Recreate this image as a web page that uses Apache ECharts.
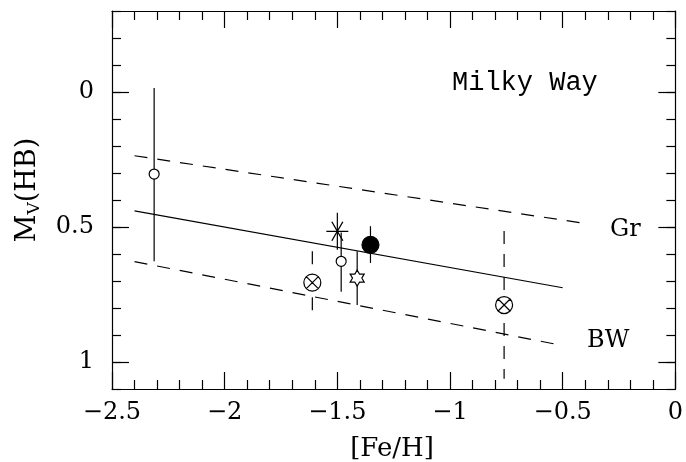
<!DOCTYPE html>
<html>
<head>
<meta charset="utf-8">
<script src="https://cdn.jsdelivr.net/npm/echarts@6/dist/echarts.min.js"></script>
<style>
  html, body { margin: 0; padding: 0; background: #fff; }
  #chart { width: 686px; height: 462px; }
</style>
</head>
<body>
<div id="chart"></div>
<script>
// axis ticks
const xMin = -2.5, xMax = 0, xStep = 0.5;
const yMin = -0.3, yMax = 1.1;
const yMajor = [0, 0.5, 1];

// relations: mean fit, Gr and BW
const fitX = [-2.4, -0.5];
const fitMv = [0.44, 0.725];
const grX = [-2.4, -0.4];
const grMv = [0.236, 0.487];
const bwX = [-2.4, -0.5];
const bwMv = [0.628, 0.939];

// objects
const objX = [-2.313, -1.611, -1.50, -1.483, -1.412, -1.353, -0.76];
const objMv = [0.304, 0.706, 0.516, 0.627, 0.689, 0.566, 0.789];
const objErrLo = [-0.015, 0.59, 0.447, 0.52, 0.59, 0.497, 0.515];
const objErrHi = [0.627, 0.826, 0.584, 0.74, 0.789, 0.633, 1.062];
const objKind = ['circle', 'cross', 'asterisk', 'circle', 'hexagram', 'dot', 'cross'];
const objErrDashed = [false, true, false, false, false, false, true];

const labelLine = ['Gr', 'BW'];

const symbols = {
  circle: { symbol: 'circle', size: 10, fill: '#fff' },
  dot: { symbol: 'circle', size: 17, fill: '#000' },
  cross: {
    symbol: 'path://M10,0 A10,10 0 1 1 -10,0 A10,10 0 1 1 10,0 Z M-7.07,-7.07 L7.07,7.07 M7.07,-7.07 L-7.07,7.07',
    size: 17, fill: '#fff'
  },
  asterisk: {
    symbol: 'path://M-10,0 L10,0 M-5,-8.66 L5,8.66 M5,-8.66 L-5,8.66',
    size: [22, 19], fill: 'rgba(0,0,0,0)'
  },
  hexagram: {
    symbol: 'path://M0,-10 L2.887,-5 L8.66,-5 L5.774,0 L8.66,5 L2.887,5 L0,10 L-2.887,5 L-8.66,5 L-5.774,0 L-8.66,-5 L-2.887,-5 Z',
    size: [14, 16], fill: '#fff'
  }
};

const pairs = (xs, ys) => xs.map((x, i) => [x, ys[i]]);
const fmtX = v => (v < 0 ? '\u2212' + Math.abs(v) : String(v));

const font = 'DejaVu Serif';
const black = { color: '#000', width: 1.2 };
const axisBase = {
  min: xMin, max: xMax, interval: xStep,
  axisLine: { onZero: false, lineStyle: black },
  axisTick: { inside: true, length: 17, lineStyle: black },
  minorTick: { show: true, splitNumber: 5, length: 9, lineStyle: black },
  splitLine: { show: false },
  minorSplitLine: { show: false }
};
const yBase = {
  type: 'value', min: yMin, max: yMax, inverse: true,
  splitLine: { show: false }
};

const chart = echarts.init(document.getElementById('chart'));

const option = {
  animation: false,
  backgroundColor: '#fff',
  grid: { left: 112, right: 8, top: 11, bottom: 73, containLabel: false },
  xAxis: [
    Object.assign({ type: 'value', position: 'bottom',
      axisLabel: { color: '#000', fontFamily: font, fontSize: 24, margin: 12, formatter: fmtX } }, axisBase),
    Object.assign({ type: 'value', position: 'top', axisLabel: { show: false } }, axisBase)
  ],
  yAxis: [
    Object.assign({ position: 'left', interval: 0.1,
      axisLine: { show: true, onZero: false, lineStyle: black },
      axisTick: { inside: true, length: 9, lineStyle: black },
      axisLabel: { show: false } }, yBase),
    Object.assign({ position: 'left',
      axisLine: { show: false, onZero: false },
      axisTick: { inside: true, length: 17, customValues: yMajor, lineStyle: black },
      axisLabel: { customValues: yMajor, color: '#000', fontFamily: font, fontSize: 24, margin: 18 } }, yBase),
    Object.assign({ position: 'right', interval: 0.1,
      axisLine: { show: true, onZero: false, lineStyle: black },
      axisTick: { inside: true, length: 9, lineStyle: black },
      axisLabel: { show: false } }, yBase),
    Object.assign({ position: 'right',
      axisLine: { show: false, onZero: false },
      axisTick: { inside: true, length: 17, customValues: yMajor, lineStyle: black },
      axisLabel: { show: false, customValues: yMajor } }, yBase)
  ],
  graphic: [
    { type: 'text', x: 452, y: 83, style: { text: 'Milky Way', font: '27px "Liberation Mono"', fill: '#000', align: 'left', verticalAlign: 'middle' } },
    { type: 'text', x: 610, y: 230, style: { text: labelLine[0], font: '24px "DejaVu Serif"', fill: '#000', align: 'left', verticalAlign: 'middle' } },
    { type: 'text', x: 587, y: 341, style: { text: labelLine[1], font: '24px "DejaVu Serif"', fill: '#000', align: 'left', verticalAlign: 'middle' } },
    { type: 'text', x: 392, y: 449, style: { text: '[Fe/H]', font: '26px "DejaVu Serif"', fill: '#000', align: 'center', verticalAlign: 'middle' } },
    { type: 'text', x: 28, y: 190, rotation: Math.PI / 2,
      style: {
        text: '{m|M}{s|V}{m|(HB)}', fill: '#000', align: 'center', verticalAlign: 'middle',
        rich: {
          m: { fontFamily: font, fontSize: 27, lineHeight: 31, fill: '#000' },
          s: { fontFamily: font, fontSize: 17, lineHeight: 17, verticalAlign: 'bottom', fill: '#000' }
        }
      } }
  ],
  series: [
    {
      type: 'custom',
      xAxisIndex: 0, yAxisIndex: 0,
      data: objX.map((x, i) => [x, objErrLo[i], objErrHi[i], objErrDashed[i] ? 1 : 0]),
      renderItem: function (params, api) {
        const p1 = api.coord([api.value(0), api.value(1)]);
        const p2 = api.coord([api.value(0), api.value(2)]);
        return {
          type: 'line',
          shape: { x1: p1[0], y1: p1[1], x2: p2[0], y2: p2[1] },
          style: { stroke: '#000', lineWidth: 1.2, lineDash: api.value(3) ? [13, 10] : null }
        };
      },
      silent: true
    },
    {
      type: 'line', xAxisIndex: 0, yAxisIndex: 0, data: pairs(fitX, fitMv),
      showSymbol: false, lineStyle: { color: '#000', width: 1.2 }
    },
    {
      type: 'line', xAxisIndex: 0, yAxisIndex: 0, data: pairs(grX, grMv),
      showSymbol: false, lineStyle: { color: '#000', width: 1.2, type: [13, 10] }
    },
    {
      type: 'line', xAxisIndex: 0, yAxisIndex: 0, data: pairs(bwX, bwMv),
      showSymbol: false, lineStyle: { color: '#000', width: 1.2, type: [13, 10] }
    },
    {
      type: 'scatter', xAxisIndex: 0, yAxisIndex: 0,
      data: objX.map((x, i) => {
        const s = symbols[objKind[i]];
        return {
          value: [x, objMv[i]],
          symbol: s.symbol,
          symbolSize: s.size,
          itemStyle: { color: s.fill, borderColor: '#000', borderWidth: 1.2, opacity: 1 }
        };
      })
    }
  ]
};

chart.setOption(option);
</script>
</body>
</html>
